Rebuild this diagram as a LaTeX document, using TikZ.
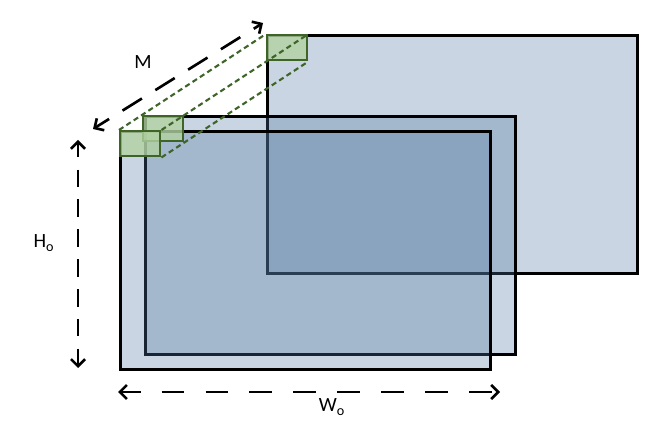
\documentclass[tikz,border=0pt]{standalone}
\usepackage{fontspec}
\setmainfont{Carlito}
\usetikzlibrary{arrows.meta}

\definecolor{planeblue}{RGB}{80,118,160}
\definecolor{patchfill}{RGB}{178,210,162}
\definecolor{patchline}{RGB}{62,100,40}

\begin{document}
\begin{tikzpicture}[
    x=0.02cm, y=-0.02cm,
    plane/.style={draw=black, line width=1.6pt, fill=planeblue, fill opacity=0.31,
        draw opacity=1, minimum width=7.4cm, minimum height=4.76cm,
        anchor=north west, inner sep=0pt},
    patch/.style={draw=patchline, line width=1.4pt, fill=patchfill, fill opacity=0.8,
        minimum width=0.8cm, minimum height=0.5cm, anchor=north west, inner sep=0pt},
    trace/.style={patchline, line width=1.2pt, dash pattern=on 3pt off 2pt},
    dimline/.style={black, line width=1.5pt,
        {Straight Barb[length=4pt, width=8pt]}-{Straight Barb[length=4pt, width=8pt]}},
    dimlabel/.style={font=\fontsize{11.5}{13}\selectfont}
]
    \useasboundingbox (0,0) rectangle (658,431);

    % 1. The three planes, back to front
    \node[plane] (back)   at (266,34)  {};
    \node[plane] (middle) at (144,115) {};
    \node[plane] (front)  at (119,130) {};

    % 2. The green patches in the corners
    \node[patch] (pb) at (back.north west)   {};
    \node[patch] (pm) at (142,115)           {};
    \node[patch] (pf) at (front.north west)  {};

    % dotted traces from the front patch to the back patch
    \draw[trace] (pf.north west) -- (pb.north west);
    \draw[trace] (pf.north east) -- (pb.north east);
    \draw[trace] (pf.south east) -- (pb.south east);

    % 3. Dimension arrows
    \coordinate (m1) at (93,129);
    \coordinate (m2) at (263,23);
    \draw[dimline, dash pattern=on 13pt off 9pt, dash phase=4pt] (m1) -- (m2);
    \node[dimlabel] (mlab) at (143,62) {M};

    \coordinate (h1) at (78,140);
    \coordinate (h2) at (78,368);
    \draw[dimline, dash pattern=on 10pt off 7pt, dash phase=2pt] (h1) -- (h2);
    \node[dimlabel] (hlab) at (44,243) {H\textsubscript{o}};

    \coordinate (w1) at (118,392);
    \coordinate (w2) at (500,392);
    \draw[dimline, dash pattern=on 13pt off 12pt, dash phase=2pt] (w1) -- (w2);
    \node[dimlabel] (wlab) at (332,407) {W\textsubscript{o}};

\end{tikzpicture}
\end{document}
